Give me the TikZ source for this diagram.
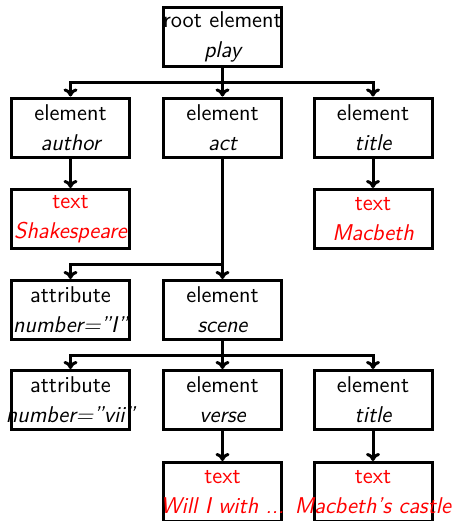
\documentclass[tikz,border=0pt]{standalone}
\usepackage{fontspec}
\usetikzlibrary{calc,arrows.meta}
\tikzset{
  box/.style={draw, line width=1.5pt, minimum width=59pt, minimum height=29.5pt, inner sep=0pt, align=center,
    font=\sffamily\fontsize{11.4}{15}\selectfont, fill=white},
  txt/.style={box, text=red},
  arr/.style={line width=1.5pt, -{To[length=4pt,width=7pt]}},
}
\newcommand{\mctrline}[1]{\makebox[0pt][c]{#1}}
\newcommand{\dq}{\symbol{34}}
\begin{document}
\begin{tikzpicture}[x=0.5pt,y=-0.5pt]
\useasboundingbox (0,0) rectangle (454,521);
% row 1
\node[box] (root) at (222.5,37) {\mctrline{root element}\\\mctrline{\itshape play}};
% row 2
\node[box] (author) at (70.5,127.5) {\mctrline{element}\\\mctrline{\itshape author}};
\node[box] (act) at (222.5,127.5) {\mctrline{element}\\\mctrline{\itshape act}};
\node[box] (title) at (373,127.5) {\mctrline{element}\\\mctrline{\itshape title}};
% row 3
\node[txt] (shak) at (70.5,219) {\mctrline{text}\\\mctrline{\itshape Shakespeare}};
\node[txt] (macb) at (373,219) {\mctrline{text}\\\mctrline{\itshape Macbeth}};
% row 4
\node[box] (attr1) at (70.5,310) {\mctrline{attribute}\\\mctrline{\itshape number=\dq I\dq}};
\node[box] (scene) at (222.5,310) {\mctrline{element}\\\mctrline{\itshape scene}};
% row 5
\node[box] (attr2) at (70.5,400) {\mctrline{attribute}\\\mctrline{\itshape number=\dq vii\dq}};
\node[box] (verse) at (222.5,400) {\mctrline{element}\\\mctrline{\itshape verse}};
\node[box] (title2) at (373,400) {\mctrline{element}\\\mctrline{\itshape title}};
% row 6
\node[txt] (vtext) at (222.5,492) {\mctrline{text}\\\mctrline{\itshape Will I with ...}};
\node[txt] (ttext) at (373,492) {\mctrline{text}\\\mctrline{\itshape Macbeth's castle}};
% connectors
\coordinate (j1) at ($(root.south)!0.5!(act.north)$);
\coordinate (j2) at ($(act.south |- shak.south)!0.5!(scene.north)$);
\coordinate (j3) at ($(scene.south)!0.5!(verse.north)$);
\draw[arr] (root.south) -- (j1) -| (author.north);
\draw[arr] (root.south) -- (act.north);
\draw[arr] (root.south) -- (j1) -| (title.north);
\draw[arr] (author.south) -- (shak.north);
\draw[arr] (title.south) -- (macb.north);
\draw[arr] (act.south) -- (j2) -| (attr1.north);
\draw[arr] (act.south) -- (scene.north);
\draw[arr] (scene.south) -- (j3) -| (attr2.north);
\draw[arr] (scene.south) -- (verse.north);
\draw[arr] (scene.south) -- (j3) -| (title2.north);
\draw[arr] (verse.south) -- (vtext.north);
\draw[arr] (title2.south) -- (ttext.north);
\end{tikzpicture}
\end{document}
